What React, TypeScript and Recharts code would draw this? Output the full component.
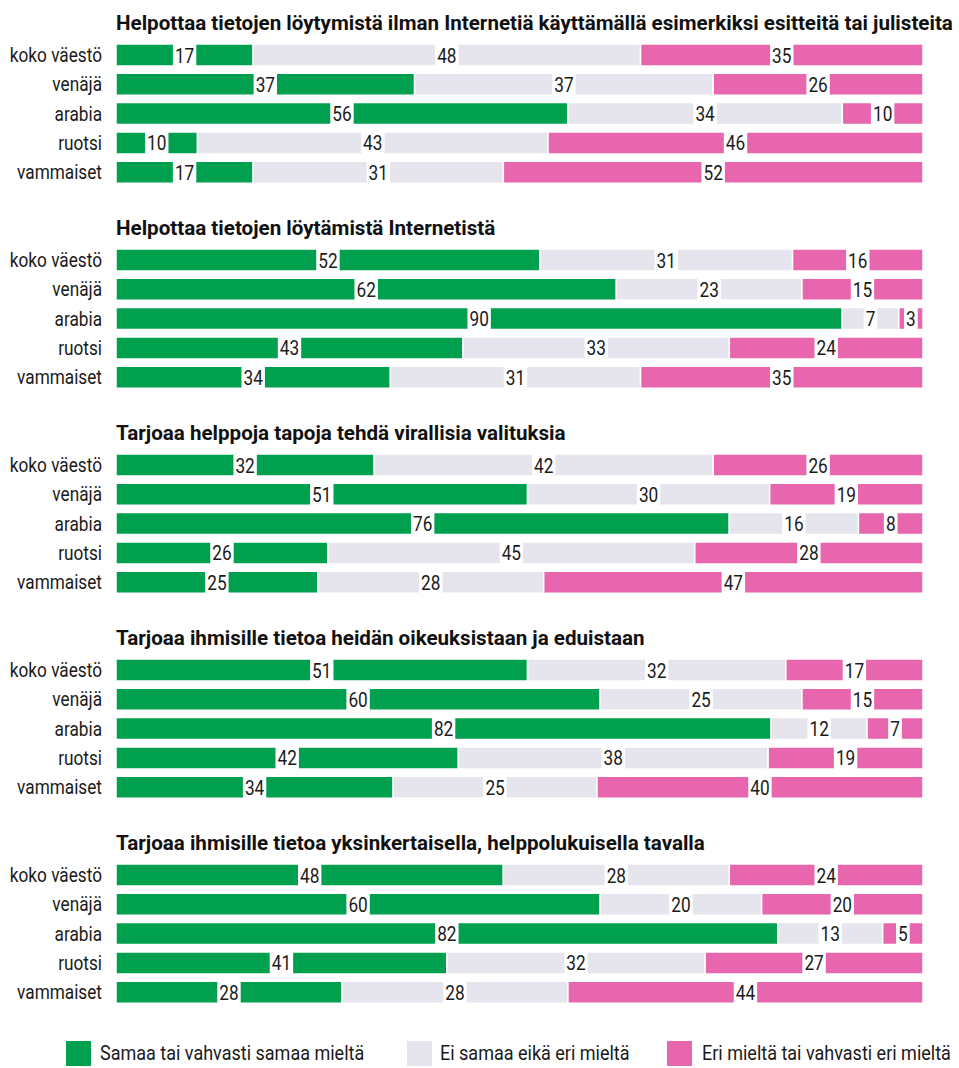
import React from "react";
import { BarChart, Bar, XAxis, YAxis, LabelList } from "recharts";

// rows shown in every panel
const groups = ["koko väestö", "venäjä", "arabia", "ruotsi", "vammaiset"];

const seriesNames = [
  "Samaa tai vahvasti samaa mieltä",
  "Ei samaa eikä eri mieltä",
  "Eri mieltä tai vahvasti eri mieltä",
];
const seriesKeys = ["agree", "neutral", "disagree"];
const seriesColors = ["#00a04f", "#e6e4ec", "#e866ad"];

const titles = [
  "Helpottaa tietojen löytymistä ilman Internetiä käyttämällä esimerkiksi esitteitä tai julisteita",
  "Helpottaa tietojen löytämistä Internetistä",
  "Tarjoaa helppoja tapoja tehdä virallisia valituksia",
  "Tarjoaa ihmisille tietoa heidän oikeuksistaan ja eduistaan",
  "Tarjoaa ihmisille tietoa yksinkertaisella, helppolukuisella tavalla",
];

// per panel, per group
const agree = [
  [17, 37, 56, 10, 17],
  [52, 62, 90, 43, 34],
  [32, 51, 76, 26, 25],
  [51, 60, 82, 42, 34],
  [48, 60, 82, 41, 28],
];
const neutral = [
  [48, 37, 34, 43, 31],
  [31, 23, 7, 33, 31],
  [42, 30, 16, 45, 28],
  [32, 25, 12, 38, 25],
  [28, 20, 13, 32, 28],
];
const disagree = [
  [35, 26, 10, 46, 52],
  [16, 15, 3, 24, 35],
  [26, 19, 8, 28, 47],
  [17, 15, 7, 19, 40],
  [24, 20, 5, 27, 44],
];

// no condensed font installed, so squeeze Roboto horizontally
const FONT = "Roboto, sans-serif";
const SQUEEZE = 0.82;
const TITLE_SQUEEZE = 0.98;
const LEGEND_SQUEEZE = 0.9;
const WIDTH = 959;
const PLOT_LEFT = 116;
const PLOT_RIGHT = 923;
const BAND = 29.3;
const BAR = 22;
const PANEL_STEP = 205;
const FIRST_BAR_TOP = 43.3;

function ValueLabel(props: any) {
  const { x, y, width, height, value } = props;
  if (value == null) return null;
  const txt = String(value);
  const w = txt.length * 9.7 + 4;
  const cx = x + width / 2;
  return (
    <g>
      <rect x={cx - w / 2} y={y} width={w} height={height} fill="#fff" />
      <text
        transform={`translate(${cx},${y + height / 2 + 7.5}) scale(${SQUEEZE},1)`}
        textAnchor="middle"
        fontSize={21}
        fontFamily={FONT}
        fill="#1a1a1a"
      >
        {txt}
      </text>
    </g>
  );
}

function GroupTick(props: any) {
  const { x, y, payload } = props;
  return (
    <text
      transform={`translate(${x},${y + 7.5}) scale(${SQUEEZE},1)`}
      textAnchor="end"
      fontSize={21}
      fontFamily={FONT}
      fill="#1a1a1a"
    >
      {payload.value}
    </text>
  );
}

function Panel({ idx }: { idx: number }) {
  const data = groups.map((g, i) => ({
    group: g,
    agree: agree[idx][i],
    neutral: neutral[idx][i],
    disagree: disagree[idx][i],
  }));
  const barTop = FIRST_BAR_TOP + PANEL_STEP * idx;
  const chartTop = barTop - (BAND - BAR) / 2;
  return (
    <>
      <div
        style={{
          position: "absolute",
          left: PLOT_LEFT,
          top: barTop - 30,
          fontFamily: FONT,
          fontWeight: "bold",
          fontSize: 21,
          lineHeight: "21px",
          color: "#111",
          whiteSpace: "nowrap",
          transform: `scaleX(${TITLE_SQUEEZE})`,
          transformOrigin: "left",
        }}
      >
        {titles[idx]}
      </div>
      <div style={{ position: "absolute", left: 0, top: chartTop }}>
        <BarChart
          width={WIDTH}
          height={BAND * groups.length}
          data={data}
          layout="vertical"
          stackOffset="expand"
          margin={{ top: 0, right: WIDTH - PLOT_RIGHT, bottom: 0, left: 0 }}
        >
          <XAxis type="number" hide domain={[0, 1]} />
          <YAxis
            type="category"
            dataKey="group"
            width={PLOT_LEFT}
            axisLine={false}
            tickLine={false}
            tickSize={0}
            tickMargin={14}
            tick={<GroupTick />}
            interval={0}
          />
          {seriesKeys.map((k, si) => (
            <Bar
              key={k}
              dataKey={k}
              name={seriesNames[si]}
              stackId="a"
              fill={seriesColors[si]}
              stroke="#fff"
              strokeWidth={1.5}
              barSize={BAR}
              isAnimationActive={false}
            >
              <LabelList dataKey={k} content={<ValueLabel />} />
            </Bar>
          ))}
        </BarChart>
      </div>
    </>
  );
}

function Legend() {
  const pos = [
    { sq: 66, tx: 100 },
    { sq: 407, tx: 440 },
    { sq: 667, tx: 702 },
  ];
  return (
    <>
      {seriesNames.map((n, i) => (
        <React.Fragment key={n}>
          <div
            style={{
              position: "absolute",
              left: pos[i].sq,
              top: 1041,
              width: 25,
              height: 25,
              background: seriesColors[i],
            }}
          />
          <div
            style={{
              position: "absolute",
              left: pos[i].tx,
              top: 1043,
              fontFamily: FONT,
              fontSize: 20,
              lineHeight: "20px",
              color: "#1a1a1a",
              whiteSpace: "nowrap",
              transform: `scaleX(${LEGEND_SQUEEZE})`,
              transformOrigin: "left",
            }}
          >
            {n}
          </div>
        </React.Fragment>
      ))}
    </>
  );
}

export default function App() {
  return (
    <div
      style={{
        position: "absolute",
        left: 0,
        top: 0,
        width: WIDTH,
        height: 1068,
        background: "#fff",
      }}
    >
      {titles.map((_, i) => (
        <Panel key={i} idx={i} />
      ))}
      <Legend />
    </div>
  );
}
